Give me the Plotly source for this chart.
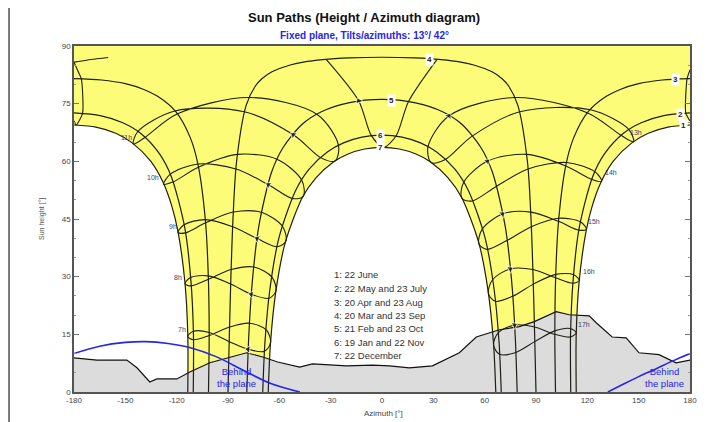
import plotly.graph_objects as go

# ---------------- date curves: azimuth [deg] / sun height [deg] ----------------
# 1: 22 June  (crosses the north at +-180)
d1_am_az = [-113.5, -113.5, -115.2, -119.3, -122.8, -127.9, -135.3, -146.0, -155.6, -167.2, -180.0]
d1_am_h = [0.0, 14.9, 28.6, 41.9, 48.3, 54.5, 60.1, 64.8, 67.3, 68.9, 69.45]
d1_pm_az = [180.0, 167.2, 155.6, 146.0, 135.3, 127.9, 122.8, 119.3, 115.2, 113.5, 113.5]
d1_pm_h = [69.45, 68.9, 67.3, 64.8, 60.1, 54.5, 48.3, 41.9, 28.6, 14.9, 0.0]
# 2: 22 May and 23 July
d2_am_az = [-110.3, -110.2, -111.7, -115.3, -123.1, -130.1, -141.1, -151.5, -164.7, -180.0]
d2_am_h = [0.0, 15.1, 29.1, 42.8, 56.0, 62.0, 67.3, 70.05, 71.9, 72.6]
d2_pm_az = [180.0, 164.7, 151.5, 141.1, 130.1, 123.1, 115.3, 111.7, 110.2, 110.3]
d2_pm_h = [72.6, 71.9, 70.05, 67.3, 62.0, 56.0, 42.8, 29.1, 15.1, 0.0]
# 3: 20 Apr and 23 Aug
d3_am_az = [-101.4, -101.0, -101.5, -103.2, -107.5, -112.0, -120.5, -131.1, -139.2, -150.0, -163.9, -180.0]
d3_am_h = [0.0, 15.3, 30.0, 44.6, 59.1, 66.1, 72.9, 76.9, 78.7, 80.2, 81.15, 81.5]
d3_pm_az = [180.0, 163.9, 150.0, 139.2, 131.1, 120.5, 112.0, 107.5, 103.2, 101.5, 101.0, 101.4]
d3_pm_h = [81.5, 81.15, 80.2, 78.7, 76.9, 72.9, 66.1, 59.1, 44.6, 30.0, 15.3, 0.0]
# 4: 20 Mar and 23 Sep
d4_az = [-90.0, -89.2, -88.3, -87.1, -85.0, -79.3, -74.0, -70.2, -64.3, -54.1, -46.0, -34.6, -19.0, 0.0,
         19.0, 34.6, 46.0, 54.1, 64.3, 70.2, 74.0, 79.3, 85.0, 87.1, 88.3, 89.2, 90.0]
d4_h = [0.0, 15.0, 30.0, 44.9, 59.9, 74.7, 79.6, 81.5, 83.3, 85.0, 85.8, 86.45, 86.9, 87.07,
        86.9, 86.45, 85.8, 85.0, 83.3, 81.5, 79.6, 74.7, 59.9, 44.9, 30.0, 15.0, 0.0]
# 5: 21 Feb and 23 Oct
d5_az = [-79.0, -77.9, -75.8, -72.0, -64.6, -57.8, -46.8, -35.4, -19.6, 0.0,
         19.6, 35.4, 46.8, 57.8, 64.6, 72.0, 75.8, 77.9, 79.0]
d5_h = [0.0, 14.1, 28.7, 43.1, 57.1, 63.6, 69.6, 72.9, 75.2, 76.1,
        75.2, 72.9, 69.6, 63.6, 57.1, 43.1, 28.7, 14.1, 0.0]
# 6: 19 Jan and 22 Nov
d6_az = [-69.7, -68.4, -65.5, -60.2, -50.4, -42.6, -31.75, -22.5, -11.7, 0.0,
         11.7, 22.5, 31.75, 42.6, 50.4, 60.2, 65.5, 68.4, 69.7]
d6_h = [0.0, 13.0, 26.8, 40.15, 52.5, 58.0, 62.5, 64.8, 66.3, 66.8,
        66.3, 64.8, 62.5, 58.0, 52.5, 40.15, 26.8, 13.0, 0.0]
# 7: 22 December
d7_az = [-66.5, -65.2, -62.1, -56.5, -46.4, -38.6, -28.2, -19.8, -10.2, 0.0,
         10.2, 19.8, 28.2, 38.6, 46.4, 56.5, 62.1, 65.2, 66.5]
d7_h = [0.0, 12.5, 26.0, 38.9, 50.7, 55.7, 59.9, 61.9, 63.2, 63.65,
        63.2, 61.9, 59.9, 55.7, 50.7, 38.9, 26.0, 12.5, 0.0]

# ---------------- hour lines (Dec, Jan, Feb, Mar, Apr, May, Jun, Jul, Aug, Sep, Oct, Nov, Dec) ----------------
hr07_az = [-65.1, -68.65, -78.2, -89.3, -101.0, -110.2, -113.5, -110.2, -101.0, -89.1, -77.4, -67.7, -65.1]
hr07_h = [12.9, 10.6, 11.1, 13.1, 15.5, 15.8, 14.45, 13.6, 14.7, 16.9, 17.9, 16.2, 12.9]
hr08_az = [-62.0, -66.0, -76.3, -88.45, -101.5, -111.9, -115.1, -111.5, -101.5, -88.2, -74.8, -64.3, -62.0]
hr08_h = [26.3, 24.4, 25.4, 28.1, 30.2, 29.8, 28.1, 27.6, 29.3, 31.85, 32.5, 29.9, 26.3]
hr09_az = [-56.2, -61.1, -72.9, -87.3, -103.3, -115.7, -119.2, -114.9, -103.1, -86.9, -70.1, -58.0, -56.2]
hr09_h = [39.2, 37.8, 39.9, 43.0, 44.85, 43.5, 41.5, 41.4, 44.0, 46.8, 46.7, 43.0, 39.2]
hr10_az = [-46.0, -52.1, -66.3, -85.35, -107.65, -123.85, -127.6, -122.3, -107.3, -84.6, -61.1, -46.8, -46.0]
hr10_h = [50.9, 50.3, 53.9, 58.0, 59.3, 56.6, 54.05, 54.6, 58.45, 61.8, 60.5, 55.0, 50.9]
hr11_az = [-27.5, -35.6, -51.8, -80.5, -121.0, -142.8, -145.3, -138.75, -119.8, -77.7, -37.9, -25.4, -27.5]
hr11_h = [60.1, 60.9, 66.9, 72.9, 73.1, 67.7, 64.5, 66.15, 72.3, 76.6, 72.2, 64.1, 60.1]
hr13_az = [28.75, 26.85, 39.05, 77.7, 120.2, 139.9, 147.0, 144.4, 121.9, 80.5, 52.5, 36.7, 28.75]
hr13_h = [59.7, 63.7, 71.8, 76.6, 72.6, 66.7, 65.1, 68.2, 73.4, 72.9, 66.5, 60.4, 59.7]
hr14_az = [46.7, 47.6, 61.5, 84.6, 107.4, 122.7, 128.4, 124.6, 107.9, 85.35, 66.5, 52.65, 46.7]
hr14_h = [50.35, 54.45, 60.0, 61.8, 58.8, 55.3, 54.8, 57.25, 59.7, 58.0, 53.4, 49.7, 50.35]
hr15_az = [56.65, 58.5, 70.3, 86.9, 103.2, 115.1, 119.5, 116.1, 103.4, 87.3, 73.0, 61.4, 56.65]
hr15_h = [38.5, 42.3, 46.3, 46.8, 44.4, 42.1, 42.3, 44.2, 45.2, 43.0, 39.4, 37.1, 38.5]
hr16_az = [62.2, 64.6, 74.9, 88.2, 101.5, 111.6, 115.3, 112.1, 101.6, 88.45, 76.35, 66.2, 62.2]
hr16_h = [25.6, 29.2, 32.0, 31.85, 29.7, 28.3, 29.0, 30.5, 30.6, 28.06, 24.9, 23.6, 25.6]
hr17_az = [65.2, 67.9, 77.4, 89.1, 101.0, 110.2, 113.5, 110.1, 101.0, 89.3, 78.2, 68.7, 65.2]
hr17_h = [12.2, 15.4, 17.4, 16.9, 15.0, 14.3, 15.4, 16.5, 15.9, 13.1, 10.3, 9.8, 12.2]
# 12h: south part (Sep, Oct, Nov, Dec, Jan, Feb, Mar) and north part near +-180
hr12_s_az = [32.0, 15.5, 8.2, 0.8, -6.2, -13.6, -32.5]
hr12_s_h = [86.4, 75.55, 66.6, 63.65, 66.7, 75.7, 86.45]
hr12_n_az = [-160.0, -170.0, -180.0, None, 180.0, 178.3, 177.5, 180.0, None,
             -180.0, -178.7, -175.0, -175.7, -177.5, -180.0]
hr12_n_h = [87.0, 86.5, 85.8, None, 83.8, 81.5, 72.6, 70.5, None,
            70.5, 69.45, 72.5, 81.45, 83.3, 85.8]

# ---------------- horizon profile ----------------
hor_az = [-180, -166.6, -149.1, -143.2, -135.7, -131.6, -119.9, -112.3, -100.6, -89.0, -79.1, -69.7,
          -61.0, -48.1, -40.6, -20.7, -5.5, 4.4, 16.0, 29.5, 45.2, 55.1, 64.5, 68.6, 80.2, 89.0,
          101.8, 109.4, 121.1, 125.2, 134.5, 142.7, 150.2, 161.9, 171.8, 180]
hor_h = [8.9, 8.3, 8.3, 6.3, 2.6, 3.4, 3.4, 5.2, 7.6, 9.1, 10.2, 9.1,
         7.8, 6.5, 7.3, 6.8, 7.0, 6.8, 6.3, 6.8, 10.2, 14.3, 15.7, 16.2, 17.0, 18.3,
         20.9, 20.1, 19.8, 18.0, 14.3, 14.1, 10.2, 9.7, 7.6, 8.3]

# ---------------- plane limit ("behind the plane") ----------------
blue_l_az = [-180, -165, -150, -138, -125, -112, -97, -80, -65, -48]
blue_l_h = [10.0, 11.9, 12.9, 13.1, 12.6, 11.5, 9.2, 5.4, 2.2, 0.0]
blue_r_az = [132, 140, 150, 160, 170, 180]
blue_r_h = [0.0, 1.8, 4.0, 6.0, 8.1, 10.0]

# ---------------- labels ----------------
date_lbl = ["1", "2", "3", "4", "5", "6", "7"]
date_lbl_az = [176.0, 174.7, 171.3, 27.7, 5.5, -0.9, -0.9]
date_lbl_h = [69.2, 72.3, 81.3, 86.6, 75.7, 66.8, 63.6]
hour_lbl = ["7h", "8h", "9h", "10h", "11h", "13h", "14h", "15h", "16h", "17h"]
hour_lbl_az = [-117.0, -119.3, -122.2, -133.9, -149.1, 148.5, 133.9, 124.0, 121.1, 118.2]
hour_lbl_h = [16.2, 29.7, 43.0, 55.8, 66.3, 67.6, 57.1, 44.3, 31.3, 17.5]
legend_lines = ["1: 22 June", "2: 22 May and 23 July", "3: 20 Apr and 23 Aug", "4: 20 Mar and 23 Sep",
                "5: 21 Feb and 23 Oct", "6: 19 Jan and 22 Nov", "7: 22 December"]
legend_h = [30.5, 26.9, 23.3, 19.8, 16.4, 13.0, 9.5]
x_ticks = [-180, -150, -120, -90, -60, -30, 0, 30, 60, 90, 120, 150, 180]
x_tick_text = ["-180", "-150", "-120", "-90", "-60", "-30", "0", "30", "60", "90", "120", "150", "180"]
y_ticks = [0, 15, 30, 45, 60, 75, 90]

LINE = "#1e1e14"
BLUE = "#2626e6"
FONT = "Liberation Sans, Arial, sans-serif"

fig = go.Figure()

# white (never sunny) regions over the yellow background
for xs, ys in [(d1_am_az, d1_am_h), (d7_az, d7_h), (d1_pm_az, d1_pm_h)]:
    fig.add_trace(go.Scatter(x=xs, y=ys, mode="lines", fill="tozeroy", fillcolor="white",
                             line=dict(width=0, shape="spline", smoothing=0.8), hoverinfo="skip"))

# horizon
fig.add_trace(go.Scatter(x=hor_az, y=hor_h, mode="lines", fill="tozeroy", fillcolor="#dcdcdc",
                         line=dict(color="#111", width=1.2), hoverinfo="skip"))

# date curves
date_curves = [(d1_am_az, d1_am_h), (d1_pm_az, d1_pm_h), (d2_am_az, d2_am_h), (d2_pm_az, d2_pm_h),
               (d3_am_az, d3_am_h), (d3_pm_az, d3_pm_h), (d4_az, d4_h), (d5_az, d5_h),
               (d6_az, d6_h), (d7_az, d7_h)]
for xs, ys in date_curves:
    fig.add_trace(go.Scatter(x=xs, y=ys, mode="lines",
                             line=dict(color=LINE, width=1.2, shape="spline", smoothing=0.8),
                             hoverinfo="skip"))

# hour lines
hour_curves = [(hr07_az, hr07_h), (hr08_az, hr08_h), (hr09_az, hr09_h), (hr10_az, hr10_h),
               (hr11_az, hr11_h), (hr13_az, hr13_h), (hr14_az, hr14_h), (hr15_az, hr15_h),
               (hr16_az, hr16_h), (hr17_az, hr17_h)]
for xs, ys in hour_curves:
    fig.add_trace(go.Scatter(x=xs, y=ys, mode="lines",
                             line=dict(color=LINE, width=1.1, shape="spline", smoothing=0.9),
                             hoverinfo="skip"))
fig.add_trace(go.Scatter(x=hr12_s_az, y=hr12_s_h, mode="lines",
                         line=dict(color=LINE, width=1.1, shape="spline", smoothing=0.8), hoverinfo="skip"))
fig.add_trace(go.Scatter(x=hr12_n_az, y=hr12_n_h, mode="lines",
                         line=dict(color=LINE, width=1.1, shape="spline", smoothing=0.6), hoverinfo="skip"))

# direction arrows (at the February point of each hour line)
for xs, ys in hour_curves:
    fig.add_trace(go.Scatter(x=[xs[1], xs[2]], y=[ys[1], ys[2]], mode="markers",
                             marker=dict(symbol="triangle-up", size=[0, 7], color=LINE, angleref="previous"),
                             hoverinfo="skip"))
fig.add_trace(go.Scatter(x=[hr12_s_az[4], hr12_s_az[5]], y=[hr12_s_h[4], hr12_s_h[5]], mode="markers",
                         marker=dict(symbol="triangle-up", size=[0, 7], color=LINE, angleref="previous"),
                         hoverinfo="skip"))

# plane limit
for xs, ys in [(blue_l_az, blue_l_h), (blue_r_az, blue_r_h)]:
    fig.add_trace(go.Scatter(x=xs, y=ys, mode="lines",
                             line=dict(color=BLUE, width=1.6, shape="spline"), hoverinfo="skip"))

ann = []
for t, x, y in zip(date_lbl, date_lbl_az, date_lbl_h):
    ann.append(dict(x=x, y=y, xref="x", yref="y", text="<b>" + t + "</b>", showarrow=False,
                    font=dict(size=8, color="#222", family=FONT), bgcolor="white", borderpad=1))
for t, x, y in zip(hour_lbl, hour_lbl_az, hour_lbl_h):
    ann.append(dict(x=x, y=y, xref="x", yref="y", text=t, showarrow=False,
                    font=dict(size=7, color="#3c3c6e", family=FONT)))
for t, y in zip(legend_lines, legend_h):
    ann.append(dict(x=-29.5, y=y, xref="x", yref="y", text=t, showarrow=False, xanchor="left",
                    yanchor="middle", font=dict(size=9.5, color="#333", family=FONT)))
for x in [-85.0, 165.0]:
    ann.append(dict(x=x, y=3.8, xref="x", yref="y", text="Behind<br>the plane", showarrow=False,
                    xanchor="center", yanchor="middle",
                    font=dict(size=9.5, color=BLUE, family=FONT)))
ann.append(dict(x=0.471, y=1.081, xref="paper", yref="paper", showarrow=False,
                xanchor="center", yanchor="middle",
                text="<b>Sun Paths (Height / Azimuth diagram)</b>",
                font=dict(size=13, color="#111", family=FONT)))
ann.append(dict(x=0.471, y=1.029, xref="paper", yref="paper", showarrow=False,
                xanchor="center", yanchor="middle",
                text="<b>Fixed plane, Tilts/azimuths: 13°/ 42°</b>",
                font=dict(size=10, color=BLUE, family=FONT)))
ann.append(dict(x=0.503, y=-0.062, xref="paper", yref="paper", showarrow=False, text="Azimuth [°]",
                xanchor="center", yanchor="middle",
                font=dict(size=8, color="#444", family=FONT)))
ann.append(dict(x=-0.052, y=0.5, xref="paper", yref="paper", showarrow=False, text="Sun height [°]",
                xanchor="center", yanchor="middle",
                textangle=-90, font=dict(size=7, color="#555", family=FONT)))

fig.update_layout(
    width=717, height=422, autosize=False,
    margin=dict(l=66, r=35, t=38, b=38),
    paper_bgcolor="white", plot_bgcolor="#fcfc78",
    showlegend=False,
    annotations=ann,
    shapes=[
        dict(type="line", xref="paper", yref="paper", x0=-0.109, x1=1.036, y0=1.1127, y1=1.1127,
             line=dict(color="#222", width=1.2)),
        dict(type="line", xref="paper", yref="paper", x0=-0.1055, x1=-0.1055, y0=1.1127, y1=-0.1,
             line=dict(color="#222", width=1.2)),
    ],
)
fig.update_xaxes(range=[-180, 180], tickvals=x_ticks, ticktext=x_tick_text, showgrid=False, zeroline=False,
                 showline=True, linecolor="#555", linewidth=1.5, mirror=True, ticks="",
                 tickfont=dict(size=8, color="#444", family=FONT))
fig.update_yaxes(range=[0, 90], tickvals=y_ticks, showgrid=False, zeroline=False,
                 showline=True, linecolor="#555", linewidth=1.5, mirror="ticks",
                 ticks="inside", ticklen=5, tickcolor="#777",
                 minor=dict(dtick=5, ticks="inside", ticklen=2, tickcolor="#999"),
                 tickfont=dict(size=8, color="#444", family=FONT))

fig.write_html("out.html")
